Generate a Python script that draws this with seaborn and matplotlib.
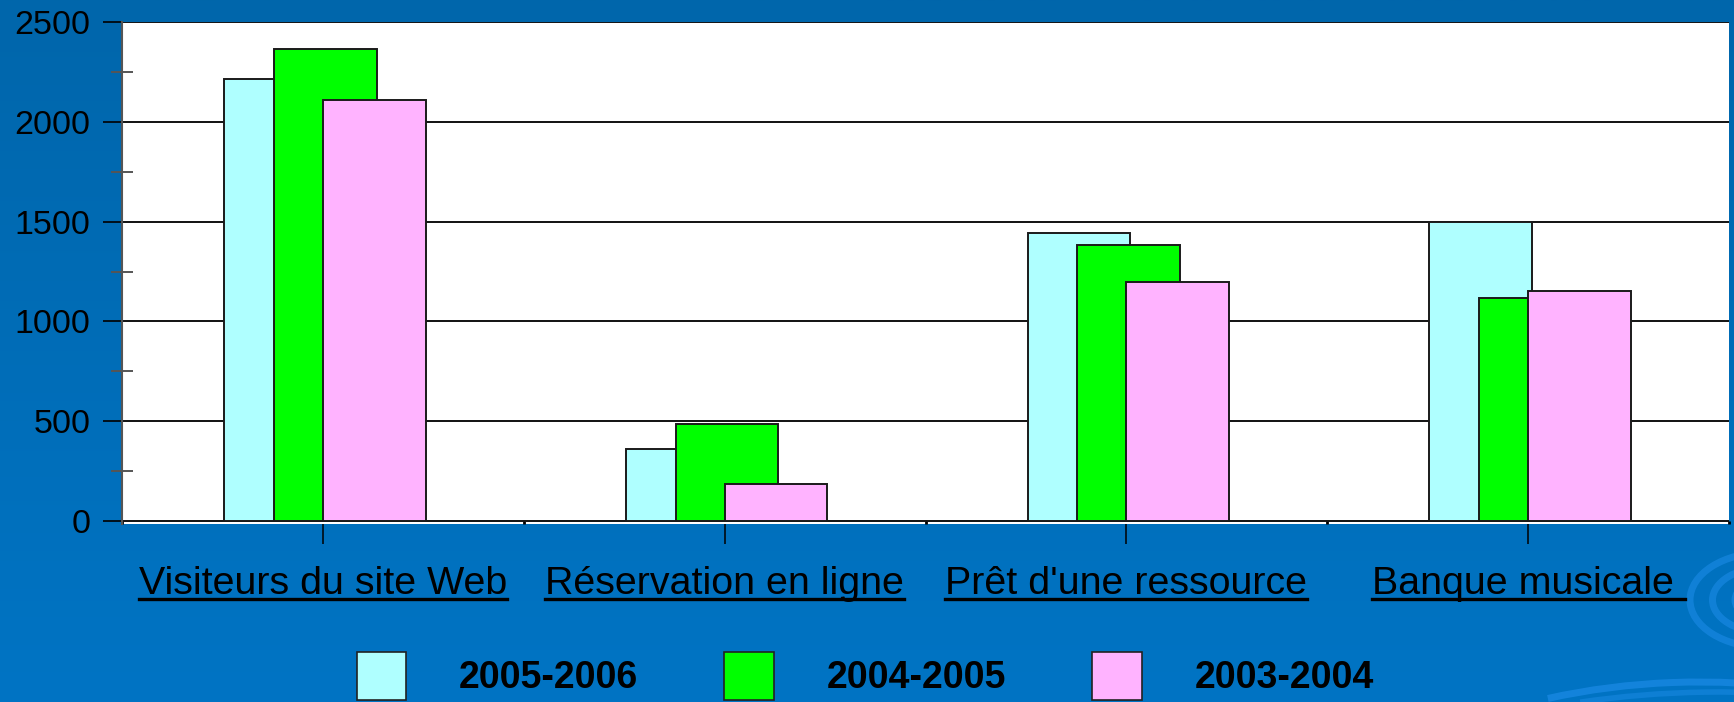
import numpy as np
import matplotlib
matplotlib.use('Agg')
import matplotlib.pyplot as plt
import seaborn as sns
from matplotlib.patches import Rectangle, Ellipse, Arc
from matplotlib.lines import Line2D
from matplotlib.transforms import IdentityTransform

plt.rcParams['font.family'] = ['Liberation Sans', 'DejaVu Sans']

# données
categories = ['Visiteurs du site Web', 'Réservation en ligne', "Prêt d'une ressource", 'Banque musicale ']
annees = ['2005-2006', '2004-2005', '2003-2004']
v_2005_2006 = [2215, 362, 1443, 1500]
v_2004_2005 = [2366, 486, 1382, 1117]
v_2003_2004 = [2111, 185, 1195, 1152]
couleurs = ['#AFFFFF', '#00FF00', '#FFB3FF']

fig = plt.figure(figsize=(17.34, 7.02), dpi=100)

# fond bleu en dégradé + quelques remous décoratifs
bg = fig.add_axes([0, 0, 1, 1], zorder=-10)
grad = np.linspace(0, 1, 256).reshape(-1, 1)
cmap = matplotlib.colors.LinearSegmentedColormap.from_list('fond', ['#0066AB', '#0074C4'])
bg.imshow(grad, aspect='auto', cmap=cmap, extent=[0, 1734, 0, 702], origin='upper')
for w, h in [(150, 95), (105, 65), (60, 38)]:
    bg.add_patch(Ellipse((1765, 102), w, h, fill=False, ec='#1C8BE6', lw=5, alpha=0.6))
bg.add_patch(Arc((1700, -260), 900, 560, theta1=70, theta2=120, ec='#1C8BE6', lw=5, alpha=0.7))
bg.add_patch(Arc((1720, -300), 1100, 620, theta1=70, theta2=115, ec='#1C8BE6', lw=4, alpha=0.5))
bg.set_xlim(0, 1734)
bg.set_ylim(0, 702)
bg.axis('off')

ax = fig.add_axes([122 / 1734, 178 / 702, 1607 / 1734, 502 / 702])
ax.set_facecolor('white')

x = np.arange(len(categories))
decalages = [-0.118, 0.006, 0.128]
for vals, dec, coul in zip([v_2005_2006, v_2004_2005, v_2003_2004], decalages, couleurs):
    sns.barplot(x=x + dec, y=vals, native_scale=True, width=0.256, color=coul, saturation=1,
                edgecolor='#1a1a1a', linewidth=1.4, ax=ax, zorder=3)

ax.set_xlim(-0.5, 3.5)
ax.set_ylim(-15, 2500)
ax.set_xlabel('')
ax.set_ylabel('')

ax.set_yticks(np.arange(0, 2501, 500))
ax.set_yticks(np.arange(250, 2500, 500), minor=True)
ax.tick_params(axis='y', which='major', direction='out', length=13.7, width=1.2, color='black',
               labelsize=24.5, pad=9)
ax.tick_params(axis='y', which='minor', direction='inout', length=15.8, width=1.4, color='#555555')

ax.set_xticks(x)
ax.set_xticklabels(categories)
ax.set_xticks(np.arange(-0.5, 4, 1), minor=True)
ax.tick_params(axis='x', which='major', direction='out', length=14.4, width=1.1, color='black',
               labelsize=28.4, pad=15.5)
ax.tick_params(axis='x', which='minor', direction='in', length=2, width=2, color='black')

for s in ['top', 'right', 'bottom']:
    ax.spines[s].set_visible(False)
ax.spines['left'].set_color('#555555')
ax.spines['left'].set_linewidth(1.5)
ax.yaxis.grid(True, color='#111111', lw=1.4)
ax.set_axisbelow(True)
if ax.get_legend() is not None:
    ax.get_legend().remove()

poignees = [Rectangle((0, 0), 1, 1, facecolor=c, edgecolor='#222222', lw=1.2) for c in couleurs]
fig.legend(poignees, annees, loc='upper left', bbox_to_anchor=(356.5 / 1734, 50 / 702), ncol=3,
           frameon=False, borderpad=0, borderaxespad=0, handlelength=1.33, handleheight=1.6,
           handletextpad=1.41, columnspacing=2.29, prop={'weight': 'bold', 'size': 27})

# soulignement des libellés de catégories
fig.canvas.draw()
for lab in ax.get_xticklabels():
    bb = lab.get_window_extent()
    fig.add_artist(Line2D([bb.x0, bb.x1], [bb.y0 + 3, bb.y0 + 3], transform=IdentityTransform(),
                          color='black', lw=2.4))

fig.savefig('out.png', dpi=100)
